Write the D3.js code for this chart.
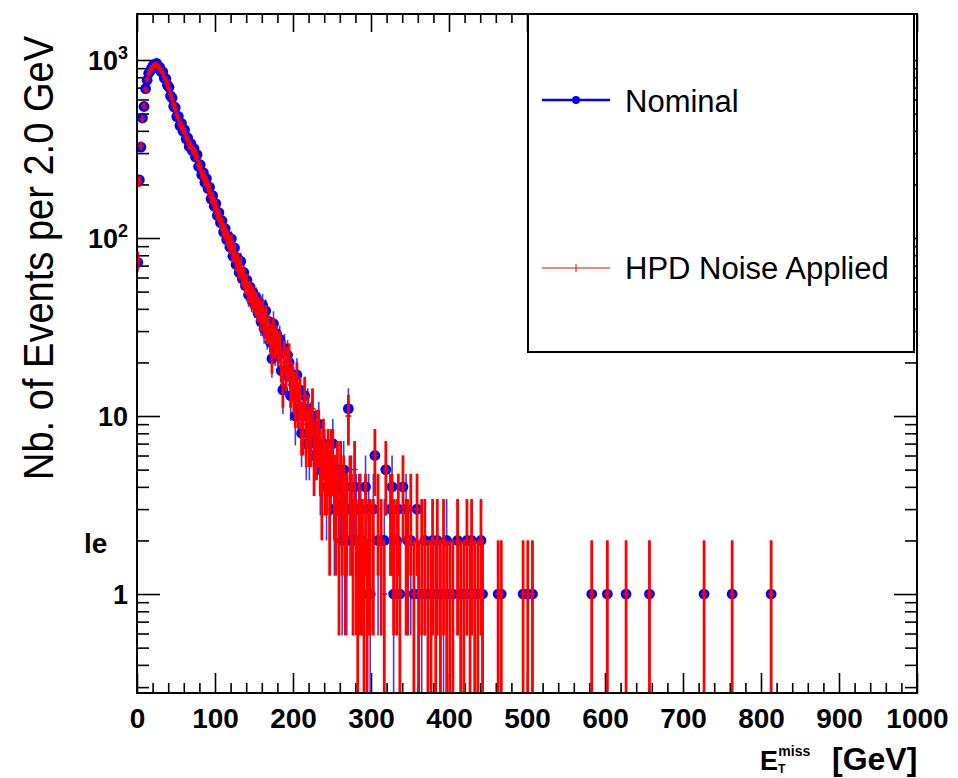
<!DOCTYPE html>
<html>
<head>
<meta charset="utf-8">
<script src="https://cdn.jsdelivr.net/npm/d3@7"></script>
<style>
  body { margin: 0; background: #fff; }
  svg { display: block; }
  text { font-family: "Liberation Sans", Arial, Helvetica, sans-serif; fill: #000; }
</style>
</head>
<body>
<svg id="chart" width="958" height="778"></svg>
<script>
// Missing transverse energy, events per 2 GeV bin (bin i covers [2i, 2i+2) GeV)
const binWidth = 2;

const nominalCounts = [
  73, 212, 324, 472, 548, 690, 770, 842, 868, 905,
  936, 921, 958, 901, 912, 861, 858, 791, 785, 722,
  703, 628, 612, 549, 540, 481, 482, 428, 441, 398,
  405, 360, 366, 327, 339, 309, 318, 285, 294, 252,
  258, 227, 233, 205, 216, 190, 193, 166, 173, 151,
  156, 134, 139, 122, 125, 108, 113, 98, 102, 89,
  99, 79, 88, 71, 77, 64, 74, 59, 64, 54,
  58, 48, 53, 45, 49, 42, 46, 38, 43, 34,
  42, 31, 39, 29, 34, 26, 21, 33, 24, 29,
  22, 27, 18, 14, 24, 17, 22, 20, 13, 17,
  15, 10, 17, 11, 14, 8, 10, 13, 7, 11,
  7, 9, 10, 6, 8, 7, 9, 5, 5, 7,
  6, 4, 6, 4, 5, 7, 3, 4, 5, 3,
  4, 2, 5, 3, 2, 11, 3, 4, 2, 4,
  3, 0, 2, 3, 2, 0, 4, 1, 3, 1
];
// Sparse bins above 300 GeV: [bin centre, count]
const nominalTail = [
  [303, 3], [305, 6], [309, 2], [313, 2], [317, 2], [319, 5], [325, 3], [327, 4],
  [329, 1], [333, 2], [335, 3], [337, 1], [341, 4], [345, 3], [347, 2], [351, 2],
  [355, 1], [359, 3], [361, 1], [365, 1], [369, 2], [373, 1], [377, 1], [379, 2],
  [383, 1], [385, 2], [389, 1], [393, 1], [397, 2], [401, 1], [405, 1], [411, 2],
  [415, 1], [419, 1], [423, 2], [427, 1], [429, 2], [433, 1], [437, 1], [441, 2],
  [443, 1], [463, 1], [467, 1], [495, 1], [501, 1], [507, 1], [583, 1], [603, 1],
  [627, 1], [657, 1], [727, 1], [763, 1], [813, 1]
];

const noiseCounts = [
  75, 208, 330, 466, 553, 684, 778, 836, 875, 899,
  927, 944, 941, 912, 899, 870, 845, 801, 772, 735,
  690, 640, 601, 560, 531, 490, 470, 437, 430, 405,
  396, 368, 357, 333, 331, 314, 309, 291, 286, 258,
  252, 231, 226, 210, 209, 194, 187, 170, 168, 155,
  152, 138, 133, 126, 120, 112, 109, 101, 98, 92,
  95, 82, 84, 74, 73, 67, 70, 61, 60, 56,
  55, 50, 50, 47, 46, 44, 43, 40, 40, 36,
  39, 33, 36, 31, 31, 28, 22, 30, 26, 27,
  24, 25, 20, 15, 22, 18, 20, 21, 15, 16,
  14, 12, 16, 12, 13, 9, 9, 13, 8, 10,
  8, 8, 11, 6, 7, 8, 8, 6, 4, 7,
  5, 5, 6, 3, 6, 6, 4, 3, 5, 2,
  5, 3, 4, 2, 3, 10, 4, 3, 2, 5,
  2, 1, 3, 2, 2, 1, 3, 1, 2, 2
];
const noiseTail = [
  [303, 2], [305, 6], [309, 3], [313, 2], [317, 1], [319, 5], [325, 3], [327, 3],
  [329, 2], [333, 2], [335, 3], [337, 1], [341, 4], [345, 2], [347, 2], [351, 3],
  [355, 1], [359, 3], [361, 1], [365, 2], [369, 2], [373, 1], [377, 1], [379, 2],
  [383, 1], [385, 2], [389, 1], [393, 2], [397, 1], [401, 1], [405, 1], [411, 2],
  [415, 1], [419, 1], [423, 2], [427, 1], [429, 2], [433, 1], [437, 1], [441, 2],
  [443, 1], [463, 1], [467, 1], [495, 1], [501, 1], [507, 1], [583, 1], [603, 1],
  [627, 1], [657, 1], [727, 1], [763, 1], [813, 1]
];

const xTicks = [0, 100, 200, 300, 400, 500, 600, 700, 800, 900, 1000];
const yTicks = [1, 10, 100, 1000];
const yTickBase = ["1", "10", "10", "10"];
const yTickExp = ["", "", "2", "3"];
const legendLabels = ["Nominal", "HPD Noise Applied"];
const yTitle = "Nb. of Events per 2.0 GeV";

// ---- layout ----
const plot = { left: 137, right: 917, top: 14, bottom: 693 };
const svg = d3.select("#chart");

const x = d3.scaleLinear().domain([0, 1000]).range([plot.left, plot.right]);
const y = d3.scaleLog().domain([0.278, 1813]).range([plot.bottom, plot.top]).clamp(true);

function toPoints(counts, tail) {
  const pts = counts.map((n, i) => ({ x: (i + 0.5) * binWidth, n })).filter(d => d.n > 0);
  tail.forEach(([c, n]) => pts.push({ x: c, n }));
  return pts;
}
const nominal = toPoints(nominalCounts, nominalTail);
const noise = toPoints(noiseCounts, noiseTail);

svg.append("defs").append("clipPath").attr("id", "plotClip")
  .append("rect")
  .attr("x", plot.left).attr("y", plot.top)
  .attr("width", plot.right - plot.left).attr("height", plot.bottom - plot.top);

// ---- axes (ticks drawn inward, ROOT style) ----
const xMinor = d3.range(0, 1001, 20).filter(v => v % 100 !== 0);
const yMinor = [];
[0.1, 1, 10, 100].forEach(dec => { for (let k = 2; k <= 9; k++) yMinor.push(k * dec); });
const yMinorIn = yMinor.filter(v => v >= 0.278 && v <= 1813);

function styleAxis(g) {
  g.select(".domain").remove();
  g.selectAll(".tick line").attr("stroke", "#000").attr("stroke-width", 1.6);
}

// bottom
svg.append("g").attr("transform", `translate(0,${plot.bottom})`)
  .call(d3.axisBottom(x).tickValues(xTicks).tickSizeInner(-20).tickSizeOuter(0).tickPadding(15).tickFormat(d3.format("d")))
  .call(styleAxis)
  .call(g => g.selectAll(".tick text").attr("font-size", 28).attr("font-weight", "bold")
    .attr("font-family", "'Liberation Sans', Arial, sans-serif").attr("fill", "#000"));
svg.append("g").attr("transform", `translate(0,${plot.bottom})`)
  .call(d3.axisBottom(x).tickValues(xMinor).tickSizeInner(-10).tickSizeOuter(0).tickFormat(""))
  .call(styleAxis);
// top
svg.append("g").attr("transform", `translate(0,${plot.top})`)
  .call(d3.axisTop(x).tickValues(xTicks).tickSizeInner(-18).tickSizeOuter(0).tickFormat(""))
  .call(styleAxis);
svg.append("g").attr("transform", `translate(0,${plot.top})`)
  .call(d3.axisTop(x).tickValues(xMinor).tickSizeInner(-9).tickSizeOuter(0).tickFormat(""))
  .call(styleAxis);
// left
const yAxisG = svg.append("g").attr("transform", `translate(${plot.left},0)`)
  .call(d3.axisLeft(y).tickValues(yTicks).tickSizeInner(-23).tickSizeOuter(0).tickPadding(9).tickFormat(""))
  .call(styleAxis);
yAxisG.selectAll(".tick text").each(function(d, i) {
  const t = d3.select(this)
    .attr("font-size", 27).attr("font-weight", "bold").attr("fill", "#000")
    .attr("font-family", "'Liberation Sans', Arial, sans-serif")
    .attr("dy", "0.36em");
  t.text(null);
  t.append("tspan").text(yTickBase[i]);
  if (yTickExp[i]) t.append("tspan").attr("dy", -11).attr("font-size", 18).text(yTickExp[i]);
});
svg.append("g").attr("transform", `translate(${plot.left},0)`)
  .call(d3.axisLeft(y).tickValues(yMinorIn).tickSizeInner(-12).tickSizeOuter(0).tickFormat(""))
  .call(styleAxis);
// right
svg.append("g").attr("transform", `translate(${plot.right},0)`)
  .call(d3.axisRight(y).tickValues(yTicks).tickSizeInner(-23).tickSizeOuter(0).tickFormat(""))
  .call(styleAxis);
svg.append("g").attr("transform", `translate(${plot.right},0)`)
  .call(d3.axisRight(y).tickValues(yMinorIn).tickSizeInner(-12).tickSizeOuter(0).tickFormat(""))
  .call(styleAxis);

// ---- data ----
const data = svg.append("g").attr("clip-path", "url(#plotClip)");
const lo = d => Math.max(d.n - Math.sqrt(d.n), 0.01);
const hi = d => d.n + Math.sqrt(d.n);

// nominal: error bars + filled circles
data.append("g").selectAll("line").data(nominal).join("line")
  .attr("x1", d => x(d.x)).attr("x2", d => x(d.x))
  .attr("y1", d => y(lo(d))).attr("y2", d => y(hi(d)))
  .attr("stroke", "#3a3aff").attr("stroke-width", 1.6);
data.append("g").selectAll("circle").data(nominal).join("circle")
  .attr("cx", d => x(d.x)).attr("cy", d => y(d.n)).attr("r", 5.4)
  .attr("fill", "#0000ff");

// HPD noise applied: red error bars with bin-width markers
data.append("g").selectAll("line").data(noise).join("line")
  .attr("x1", d => x(d.x)).attr("x2", d => x(d.x))
  .attr("y1", d => y(lo(d))).attr("y2", d => y(hi(d)))
  .attr("stroke", "#ff0000").attr("stroke-width", 2.8);
data.append("g").selectAll("line").data(noise).join("line")
  .attr("x1", d => x(d.x) - 3).attr("x2", d => x(d.x) + 3)
  .attr("y1", d => y(d.n)).attr("y2", d => y(d.n))
  .attr("stroke", "#ff0000").attr("stroke-width", 1.6);

// ---- frame ----
svg.append("rect")
  .attr("x", plot.left).attr("y", plot.top)
  .attr("width", plot.right - plot.left).attr("height", plot.bottom - plot.top)
  .attr("fill", "none").attr("stroke", "#000").attr("stroke-width", 2);

// ---- legend ----
const lg = svg.append("g");
lg.append("rect").attr("x", 528).attr("y", 14).attr("width", 386).attr("height", 338)
  .attr("fill", "#fff").attr("stroke", "#000").attr("stroke-width", 2);
// Nominal
lg.append("line").attr("x1", 542).attr("x2", 610).attr("y1", 100).attr("y2", 100)
  .attr("stroke", "#0000ff").attr("stroke-width", 2.4);
lg.append("circle").attr("cx", 576).attr("cy", 100).attr("r", 4).attr("fill", "#0000ff");
lg.append("text").attr("x", 625).attr("y", 112).attr("font-size", 31).text(legendLabels[0]);
// HPD noise applied
lg.append("line").attr("x1", 542).attr("x2", 610).attr("y1", 268).attr("y2", 268)
  .attr("stroke", "#ff0000").attr("stroke-width", 1.2);
lg.append("line").attr("x1", 576).attr("x2", 576).attr("y1", 264).attr("y2", 272)
  .attr("stroke", "#ff0000").attr("stroke-width", 1);
lg.append("text").attr("x", 625).attr("y", 279).attr("font-size", 31).text(legendLabels[1]);

// ---- titles ----
// y title: slightly condensed along its length
svg.append("text")
  .attr("transform", "translate(53,258) rotate(-90) scale(0.906,1)")
  .attr("text-anchor", "middle").attr("font-size", 42)
  .text(yTitle);

// x title: E_T^miss [GeV] as one text run
const xt = svg.append("text").attr("x", 760).attr("y", 770)
  .attr("font-weight", "bold").attr("font-size", 27);
xt.append("tspan").text("E");
xt.append("tspan").attr("font-size", 12).attr("dy", 3).text("T");
xt.append("tspan").attr("font-size", 14).attr("dx", -7).attr("dy", -17).text("miss");
xt.append("tspan").attr("x", 832).attr("y", 770).attr("font-size", 32).text("[GeV]");

// fragment of neighbouring page text
svg.append("text").attr("x", 84).attr("y", 553).attr("font-size", 28).attr("font-weight", "bold").text("le");
</script>
</body>
</html>
